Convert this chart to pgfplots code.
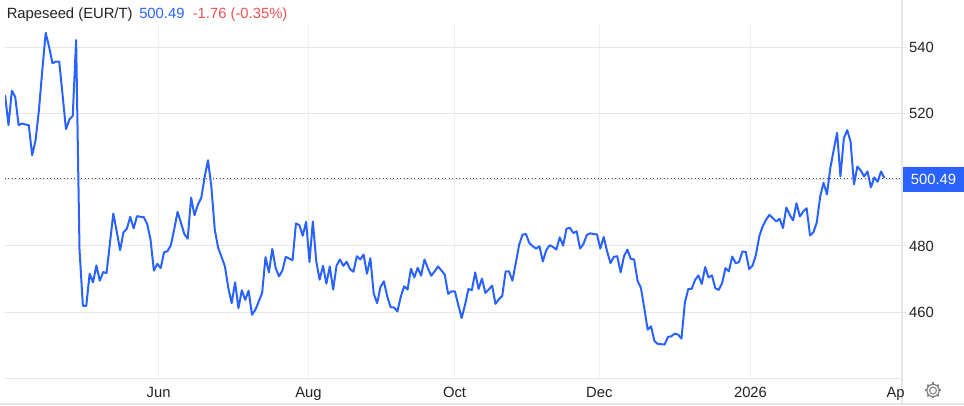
\documentclass[border=0pt]{standalone}
\usepackage{pgfplots}
\pgfplotsset{compat=1.18}
\usepackage{fontspec}
\setmainfont{Liberation Sans}
\definecolor{teblue}{HTML}{2962FF}
\definecolor{tered}{HTML}{F05050}
\definecolor{hgrid}{HTML}{E6E6E6}
\definecolor{vgrid}{HTML}{EDF1F6}
\definecolor{lab}{HTML}{222222}
\newcommand{\lbl}{\fontsize{11.1}{13}\selectfont}

\begin{document}
\begin{tikzpicture}[x=0.75pt,y=0.75pt]
\path[use as bounding box] (0,0) rectangle (964,406);
% frame lines around the plot, in pixels of the reference
\draw[hgrid,line width=1pt] (902,2) -- (902,406);
\draw[hgrid,line width=1pt] (0,2) -- (964,2);
\begin{axis}[
    at={(3.75pt,20.775pt)}, anchor=south west,
    scale only axis,
    width=672.75pt, height=265.7pt,
    xmin=-0.03, xmax=265.2,
    ymin=440, ymax=547.06,
    axis x line*=bottom,
    axis y line*=right,
    axis line style={hgrid,line width=0.75pt,-},
    xtick={45.4,89.7,132.9,175.7,220.4},
    xticklabels={Jun,Aug,Oct,Dec,2026},
    extra x ticks={263.3},
    extra x tick labels={Ap},
    extra x tick style={grid=none},
    ytick={460,480,500,520,540},
    yticklabels={460,480,,520,540},
    xmajorgrids, ymajorgrids,
    x grid style={vgrid,line width=0.75pt},
    y grid style={hgrid,line width=0.75pt},
    x tick style={draw=none},
    y tick style={hgrid,line width=0.75pt},
    tick align=outside,
    major tick length=3.75pt,
    tick label style={font=\lbl,text=lab},
    xticklabel style={yshift=0.6pt},
    yticklabel style={xshift=-2pt},
    /pgf/number format/assume math mode=true,
]
\addplot[color=black!70,dotted,line width=0.6pt,forget plot] coordinates {(-0.03,500.49) (265.2,500.49)};
\addplot[color=teblue,line width=1.5pt,line join=round,no markers] table[row sep=\\,header=false,x expr=\coordindex,y index=0] {
525.6\\ 516.5\\ 526.9\\ 525\\ 516.5\\ 517\\ 516.7\\ 516.5\\ 507.4\\ 511.9\\
521\\ 533.1\\ 544.4\\ 540.2\\ 535.2\\ 535.7\\ 535.7\\ 525.6\\ 515.3\\ 518.2\\
519.3\\ 542.2\\ 478.9\\ 461.9\\ 461.9\\ 471.6\\ 469\\ 474.1\\ 469.5\\ 472.1\\
471.8\\ 480.9\\ 489.8\\ 484.4\\ 478.7\\ 484.1\\ 485.2\\ 488.8\\ 485.3\\ 489\\
488.8\\ 488.7\\ 486.7\\ 481.9\\ 472.5\\ 474.6\\ 473.3\\ 478.1\\ 478.4\\ 480.2\\
485\\ 490.3\\ 487\\ 483.6\\ 482.2\\ 494.6\\ 489.3\\ 492.5\\ 494.5\\ 500.8\\
505.9\\ 497.8\\ 484.9\\ 479.4\\ 476.7\\ 473.8\\ 467.3\\ 462.7\\ 469\\ 461.2\\
466.6\\ 463.7\\ 466.5\\ 459.2\\ 460.7\\ 463.2\\ 465.8\\ 476.6\\ 472\\ 479.1\\
473.3\\ 470.8\\ 472.6\\ 476.7\\ 476.2\\ 475.7\\ 486.8\\ 486.3\\ 483.1\\ 487.3\\
475.2\\ 487.4\\ 475.4\\ 469.8\\ 474\\ 468.6\\ 473.8\\ 466.8\\ 474\\ 475.9\\
474\\ 475.2\\ 473\\ 472.2\\ 476.9\\ 475.9\\ 477.4\\ 471.6\\ 476.3\\ 465.6\\
462.7\\ 467.6\\ 469.3\\ 464.7\\ 461.5\\ 461.4\\ 460.2\\ 464.7\\ 467.8\\ 466.8\\
473.1\\ 470.5\\ 473.4\\ 471\\ 475.9\\ 473.3\\ 471\\ 472.3\\ 473.8\\ 472.6\\
471.3\\ 465.5\\ 466.3\\ 466.3\\ 462.2\\ 458.2\\ 462.2\\ 467\\ 466.6\\ 472\\
467\\ 470.1\\ 465.8\\ 466.8\\ 468\\ 462.5\\ 463.9\\ 464.9\\ 472.3\\ 472.3\\
469.5\\ 474.8\\ 480.4\\ 483.4\\ 483.6\\ 480.9\\ 479.9\\ 479.2\\ 479.9\\ 475.3\\
478.7\\ 480.2\\ 479.7\\ 478.9\\ 482.6\\ 480.1\\ 485.2\\ 485.5\\ 483.9\\ 484.4\\
479.2\\ 480.6\\ 483.3\\ 483.8\\ 483.6\\ 483.5\\ 479.2\\ 482.7\\ 478.4\\ 474.8\\
476.7\\ 476.9\\ 472\\ 476.9\\ 478.9\\ 476.1\\ 475.9\\ 469.5\\ 467.3\\ 461.2\\
454.7\\ 455.7\\ 451.2\\ 450.4\\ 450.3\\ 450.2\\ 452.5\\ 452.7\\ 453.5\\ 453.2\\
452\\ 462.9\\ 467\\ 467\\ 469.7\\ 471.1\\ 468.5\\ 473.6\\ 470.5\\ 471.1\\
467.2\\ 466.7\\ 468.7\\ 473.3\\ 472.3\\ 476.8\\ 474.8\\ 475.1\\ 478.3\\ 478.2\\
473\\ 474\\ 477.3\\ 482.9\\ 485.9\\ 487.9\\ 489.4\\ 488.4\\ 487.4\\ 488.2\\
485.4\\ 491.6\\ 489.4\\ 487.7\\ 492.9\\ 488.9\\ 490.4\\ 491.4\\ 483.2\\ 484.1\\
487.1\\ 494.9\\ 499.1\\ 495.6\\ 503.5\\ 509\\ 514.2\\ 501\\ 512.5\\ 515\\
511.5\\ 498.6\\ 504\\ 502.8\\ 501\\ 502.5\\ 497.7\\ 500.7\\ 499.4\\ 502.5\\
500.49\\
};
\end{axis}
% last price tag
\fill[teblue] (903,213.5) rectangle (964,239);
\node[font=\lbl,text=white,anchor=base] at (933.5,221) {500.49};
% header line
\node[font=\lbl,text=lab,anchor=base west,inner sep=0pt] at (6.5,387) {Rapeseed (EUR/T)};
\node[font=\lbl,text=teblue,anchor=base west,inner sep=0pt] at (139,387) {500.49};
\node[font=\lbl,text=tered,anchor=base west,inner sep=0pt] at (192.5,387) {-1.76 (-0.35\%)};
% settings gear
\begin{scope}[shift={(933,15.5)}]
\draw[gray!110!black,line width=0.9pt] (0,0) circle (2.6pt);
\draw[gray,line width=0.9pt] (0,0) circle (4.6pt);
\foreach \a in {0,45,...,315}
  \draw[gray,line width=1.5pt] (\a:4.6pt) -- (\a:6pt);
\end{scope}
\end{tikzpicture}
\end{document}
